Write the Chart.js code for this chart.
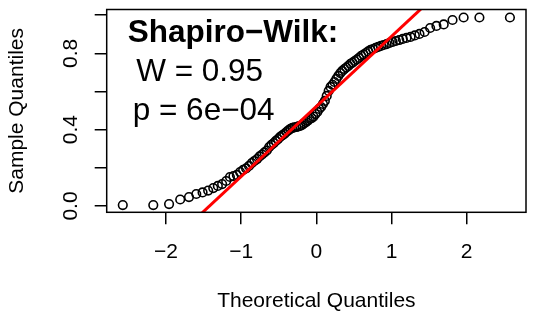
<!DOCTYPE html>
<html>
<head>
<meta charset="utf-8">
<script src="https://cdn.jsdelivr.net/npm/chart.js@4.4.1/dist/chart.umd.min.js"></script>
<style>
html,body{margin:0;padding:0;background:#fff;}
#wrap{width:533px;height:316px;}
</style>
</head>
<body>
<div id="wrap"><canvas id="qq" width="533" height="316"></canvas></div>
<script>
const theoretical = [
-2.576,-2.170,-1.960,-1.812,-1.695,-1.598,-1.514,-1.440,-1.372,-1.311,
-1.254,-1.200,-1.150,-1.103,-1.058,-1.015,-0.974,-0.935,-0.896,-0.860,
-0.824,-0.789,-0.755,-0.722,-0.690,-0.659,-0.628,-0.598,-0.568,-0.539,
-0.510,-0.482,-0.454,-0.426,-0.399,-0.372,-0.345,-0.319,-0.292,-0.266,
-0.240,-0.215,-0.189,-0.164,-0.138,-0.113,-0.088,-0.063,-0.038,-0.013,
0.013,0.038,0.063,0.088,0.113,0.138,0.164,0.189,0.215,0.240,
0.266,0.292,0.319,0.345,0.372,0.399,0.426,0.454,0.482,0.510,
0.539,0.568,0.598,0.628,0.659,0.690,0.722,0.755,0.789,0.824,
0.860,0.896,0.935,0.974,1.015,1.058,1.103,1.150,1.200,1.254,
1.311,1.372,1.440,1.514,1.598,1.695,1.812,1.960,2.170,2.576
];

const sample = [
0.005,0.005,0.010,0.034,0.047,0.063,0.071,0.081,0.094,0.105,
0.115,0.131,0.152,0.157,0.163,0.178,0.189,0.197,0.210,0.225,
0.236,0.246,0.260,0.270,0.281,0.291,0.309,0.320,0.330,0.341,
0.351,0.362,0.370,0.378,0.388,0.396,0.404,0.409,0.412,0.414,
0.417,0.420,0.425,0.433,0.440,0.448,0.456,0.461,0.469,0.482,
0.493,0.509,0.519,0.535,0.551,0.577,0.603,0.624,0.635,0.650,
0.666,0.682,0.697,0.708,0.718,0.726,0.734,0.745,0.752,0.760,
0.768,0.776,0.787,0.794,0.802,0.810,0.818,0.823,0.829,0.834,
0.839,0.844,0.849,0.855,0.860,0.865,0.870,0.876,0.881,0.886,
0.894,0.902,0.912,0.933,0.944,0.952,0.975,0.988,0.988,0.988
];

const xTickValues = [-2,-1,0,1,2];
const xTickLabels = ["\u22122","\u22121","0","1","2"];
const yTickValues = [0,0.2,0.4,0.6,0.8,1.0];
const yTickLabels = ["0.0","","0.4","","0.8",""];

const xRange = [-2.79, 2.79];
const yRange = [-0.033, 1.030];

// reference line
const lineIntercept = 0.522;
const lineSlope = 0.367;

const legendLines = ["Shapiro\u2212Wilk:", "W = 0.95", "p = 6e\u221204"];

const FONT = '"Liberation Sans", Arial, Helvetica, sans-serif';

const points = theoretical.map((x,i)=>({x:x, y:sample[i]}));
const qqLine = xRange.map(x=>({x:x, y:lineIntercept + lineSlope*x}));

const rPlot = {
  id:"rPlot",
  afterDraw(chart){
    const c = chart.ctx;
    const a = chart.chartArea;
    const xs = chart.scales.x, ys = chart.scales.y;
    c.save();
    // box
    c.strokeStyle = "#000";
    c.lineWidth = 1.5;
    c.strokeRect(a.left, a.top, a.right-a.left, a.bottom-a.top);

    // tick labels
    c.fillStyle = "#000";
    c.font = "21px " + FONT;
    c.textAlign = "center";
    c.textBaseline = "middle";
    xTickValues.forEach((v,i)=>{
      c.fillText(xTickLabels[i], xs.getPixelForValue(v), a.bottom + 40);
    });
    yTickValues.forEach((v,i)=>{
      if(!yTickLabels[i]) return;
      c.save();
      c.translate(a.left - 35, ys.getPixelForValue(v));
      c.rotate(-Math.PI/2);
      c.fillText(yTickLabels[i], 0, 0);
      c.restore();
    });

    // legend text
    c.textAlign = "left";
    c.textBaseline = "alphabetic";
    c.font = "bold 31.5px " + FONT;
    c.fillText(legendLines[0], a.left + 21, a.top + 32.5);
    c.font = "31.5px " + FONT;
    c.fillText(legendLines[1], a.left + 29.5, a.top + 71.5);
    c.fillText(legendLines[2], a.left + 26, a.top + 110.5);
    c.restore();
  }
};

new Chart(document.getElementById("qq"),{
  type:"scatter",
  data:{
    datasets:[
      {
        label:"qqline",
        data:qqLine,
        showLine:true,
        borderColor:"#ff0000",
        borderWidth:3,
        pointRadius:0,
        clip:0
      },
      {
        label:"sample",
        data:points,
        pointStyle:"circle",
        pointRadius:4.3,
        pointBorderWidth:1.6,
        pointBorderColor:"#000",
        pointBackgroundColor:"rgba(0,0,0,0)"
      }
    ]
  },
  options:{
    responsive:false,
    animation:false,
    layout:{padding:{left:0,right:7,top:9.5,bottom:0}},
    plugins:{legend:{display:false},tooltip:{enabled:false}},
    scales:{
      x:{
        type:"linear",
        min:xRange[0], max:xRange[1],
        afterBuildTicks:s=>{ s.ticks = xTickValues.map(v=>({value:v})); },
        afterFit:s=>{ s.height = 103.7; },
        ticks:{display:false},
        border:{display:false},
        grid:{drawOnChartArea:false, drawTicks:true, tickLength:12, color:"#000", lineWidth:1.5},
        title:{display:true, text:"Theoretical Quantiles", color:"#000",
               font:{family:FONT, size:21}, padding:{top:0,bottom:2}}
      },
      y:{
        type:"linear",
        min:yRange[0], max:yRange[1],
        afterBuildTicks:s=>{ s.ticks = yTickValues.map(v=>({value:v})); },
        afterFit:s=>{ s.width = 106.7; },
        ticks:{display:false},
        border:{display:false},
        grid:{drawOnChartArea:false, drawTicks:true, tickLength:12, color:"#000", lineWidth:1.5},
        title:{display:true, text:"Sample Quantiles", color:"#000",
               font:{family:FONT, size:21}, padding:{top:5,bottom:0}}
      }
    }
  },
  plugins:[rPlot]
});
</script>
</body>
</html>
